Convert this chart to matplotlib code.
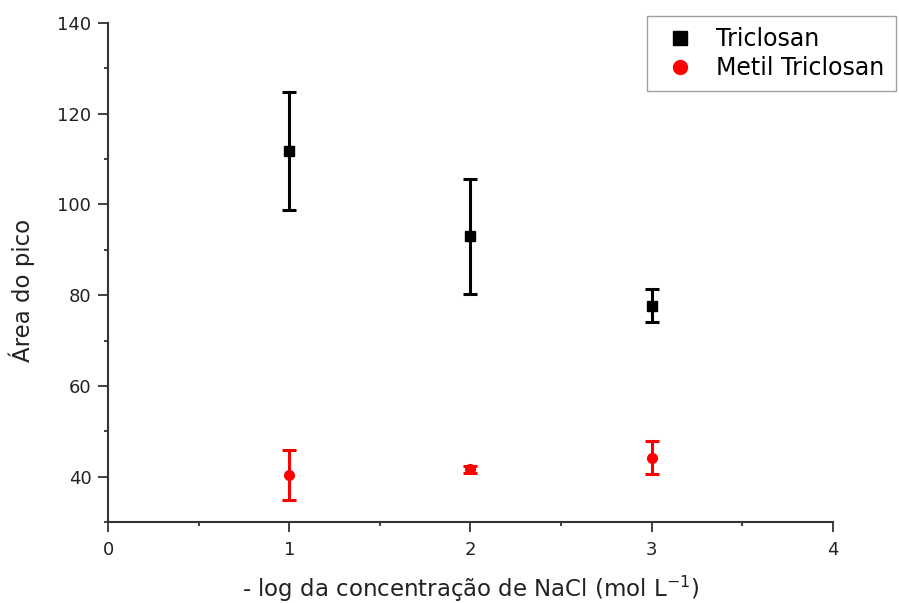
import matplotlib
matplotlib.use("Agg")
import matplotlib.pyplot as plt
from matplotlib.lines import Line2D
from matplotlib.ticker import MultipleLocator

# Data
x_vals = [1, 2, 3]
triclosan = [111.8, 93.0, 77.7]
triclosan_err = [13.0, 12.7, 3.7]
metil = [40.3, 41.6, 44.2]
metil_err = [5.5, 0.7, 3.6]
series_labels = ["Triclosan", "Metil Triclosan"]
xlabel = "- log da concentração de NaCl (mol L$^{\\mathregular{-1}}$)"
ylabel = "Área do pico"

plt.rcParams['font.family'] = ['DejaVu Sans']

fig = plt.figure(figsize=(8.99, 6.03), dpi=100)
ax = fig.add_axes([108/899, 1-522/603, (833-108)/899, (522-23)/603])

ax.errorbar(x_vals, triclosan, yerr=triclosan_err, fmt='s', color='black',
            markersize=7, elinewidth=2.2, capsize=5, capthick=2.2, zorder=3)
ax.errorbar(x_vals, metil, yerr=metil_err, fmt='o', color='red',
            markersize=7, elinewidth=2.2, capsize=5, capthick=2.2, zorder=3)

ax.set_xlim(0, 4)
ax.set_ylim(30, 140)
ax.xaxis.set_major_locator(MultipleLocator(1))
ax.xaxis.set_minor_locator(MultipleLocator(0.5))
ax.yaxis.set_major_locator(MultipleLocator(20))
ax.yaxis.set_minor_locator(MultipleLocator(10))
ax.set_yticks([40, 60, 80, 100, 120, 140])

for s in ['top', 'right']:
    ax.spines[s].set_visible(False)
for s in ['left', 'bottom']:
    ax.spines[s].set_linewidth(1.5)
    ax.spines[s].set_color('#333333')

ax.tick_params(axis='both', which='major', direction='out', length=7, width=1.3,
               labelsize=13, colors='#333333', labelcolor='#222222')
ax.tick_params(axis='y', which='major', pad=5)
ax.tick_params(axis='x', which='major', pad=7)
ax.tick_params(axis='both', which='minor', direction='out', length=3, width=1.3, colors='#333333')

ax.set_xlabel(xlabel, fontsize=16.5, color='#222222')
ax.xaxis.set_label_coords(0.5, -0.103)
ax.xaxis.label.set_va('top')
ax.set_ylabel(ylabel, fontsize=16.5, color='#222222')
ax.yaxis.set_label_coords(-0.101, 0.465)

handles = [
    Line2D([], [], linestyle='none', marker='s', color='black', markersize=10),
    Line2D([], [], linestyle='none', marker='o', color='red', markersize=10),
]
leg = fig.legend(handles, series_labels, loc='upper left',
                 bbox_to_anchor=(647/899, 1-16/603), fontsize=17,
                 frameon=True, fancybox=False, edgecolor='#888888',
                 borderaxespad=0, handlelength=1.84, handletextpad=0.6,
                 labelspacing=0.19, borderpad=0.48)
leg.get_frame().set_linewidth(1.0)

fig.savefig("out.png", dpi=100)
